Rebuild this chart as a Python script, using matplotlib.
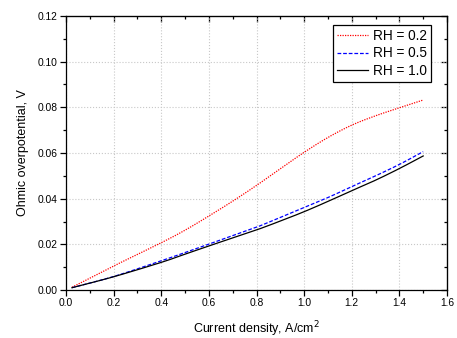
import numpy as np
import matplotlib
matplotlib.use('Agg')
import matplotlib.pyplot as plt
from matplotlib.ticker import MultipleLocator

plt.rcParams['font.family'] = ['Liberation Sans', 'DejaVu Sans']

# current density, A/cm^2
current = [0.025, 0.2, 0.4, 0.5, 0.6, 0.7, 0.8, 0.9, 1.0, 1.1, 1.2, 1.3, 1.4, 1.5]
# ohmic overpotential, V
rh_02 = [0.0012, 0.0105, 0.0207, 0.0262, 0.0324, 0.0389, 0.0458, 0.0531, 0.0603, 0.0668, 0.0722, 0.0763, 0.0798, 0.0832]
rh_05 = [0.0010, 0.0059, 0.0128, 0.0164, 0.0201, 0.0238, 0.0275, 0.0318, 0.0362, 0.0405, 0.0453, 0.0500, 0.0550, 0.0606]
rh_10 = [0.0010, 0.0058, 0.0121, 0.0157, 0.0193, 0.0228, 0.0263, 0.0302, 0.0343, 0.0388, 0.0435, 0.0481, 0.0532, 0.0587]

labels = ['RH = 0.2', 'RH = 0.5', 'RH = 1.0']


def smooth(x, y, n=30):
  # catmull-rom spline through the read-off points
  x = np.asarray(x, float)
  y = np.asarray(y, float)
  px = np.concatenate([[2*x[0] - x[1]], x, [2*x[-1] - x[-2]]])
  py = np.concatenate([[2*y[0] - y[1]], y, [2*y[-1] - y[-2]]])
  t = np.linspace(0, 1, n, endpoint=False)[:, None]
  xs, ys = [], []
  for i in range(1, len(px) - 2):
    for p, out in ((px, xs), (py, ys)):
      p0, p1, p2, p3 = p[i-1], p[i], p[i+1], p[i+2]
      seg = 0.5 * ((2*p1) + (-p0 + p2)*t + (2*p0 - 5*p1 + 4*p2 - p3)*t**2
        + (-p0 + 3*p1 - 3*p2 + p3)*t**3)
      out.append(seg.ravel())
  return np.append(np.concatenate(xs), x[-1]), np.append(np.concatenate(ys), y[-1])


fig = plt.figure(figsize=(4.57, 3.38), dpi=100)
ax = fig.add_axes([66/457, 1 - 290/338, (447-66)/457, (290-16)/338])

x, y = smooth(current, rh_02)
ax.plot(x, y, color='red', linestyle=(0, (1, 1)), linewidth=0.9, label=labels[0])
x, y = smooth(current, rh_05)
ax.plot(x, y, color='blue', linestyle=(0, (3, 1.5)), linewidth=0.9, label=labels[1])
x, y = smooth(current, rh_10)
ax.plot(x, y, color='black', linestyle='-', linewidth=0.9, label=labels[2])

ax.set_xlim(0, 1.6)
ax.set_ylim(0, 0.12)
ax.xaxis.set_major_locator(MultipleLocator(0.2))
ax.xaxis.set_minor_locator(MultipleLocator(0.1))
ax.yaxis.set_major_locator(MultipleLocator(0.02))
ax.yaxis.set_minor_locator(MultipleLocator(0.01))
ax.xaxis.set_major_formatter(plt.FormatStrFormatter('%.1f'))
ax.yaxis.set_major_formatter(plt.FormatStrFormatter('%.2f'))

ax.grid(which='major', color='#c8c8c8', linestyle=':', linewidth=0.8)
ax.tick_params(axis='both', which='major', direction='out', length=4, width=0.9,
  labelsize=7.4, pad=2)
ax.tick_params(axis='both', which='minor', direction='out', length=2.5, width=0.9)
for s in ax.spines.values():
  s.set_linewidth(0.9)

# mirrored ticks on top and right, pointing in
axt = ax.secondary_xaxis('top')
axt.xaxis.set_major_locator(MultipleLocator(0.2))
axt.xaxis.set_minor_locator(MultipleLocator(0.1))
axt.tick_params(which='major', direction='in', length=4, width=0.9, labeltop=False)
axt.tick_params(which='minor', direction='in', length=2.5, width=0.9)
axr = ax.secondary_yaxis('right')
axr.yaxis.set_major_locator(MultipleLocator(0.02))
axr.yaxis.set_minor_locator(MultipleLocator(0.01))
axr.tick_params(which='major', direction='in', length=4, width=0.9, labelright=False)
axr.tick_params(which='minor', direction='in', length=2.5, width=0.9)

ax.set_xlabel('Current density, A/cm$^2$', fontsize=9, labelpad=8)
ax.set_ylabel('Ohmic overpotential, V', fontsize=9, labelpad=6)

leg = ax.legend(loc='upper right', bbox_to_anchor=((431-66)/381, (290-25)/274),
  borderaxespad=0, fontsize=9.8, fancybox=False, framealpha=1,
  edgecolor='black', handlelength=2.3, handletextpad=0.35, borderpad=0.3,
  labelspacing=0.25)
leg.get_frame().set_linewidth(0.9)

fig.savefig('out.png', dpi=100)
